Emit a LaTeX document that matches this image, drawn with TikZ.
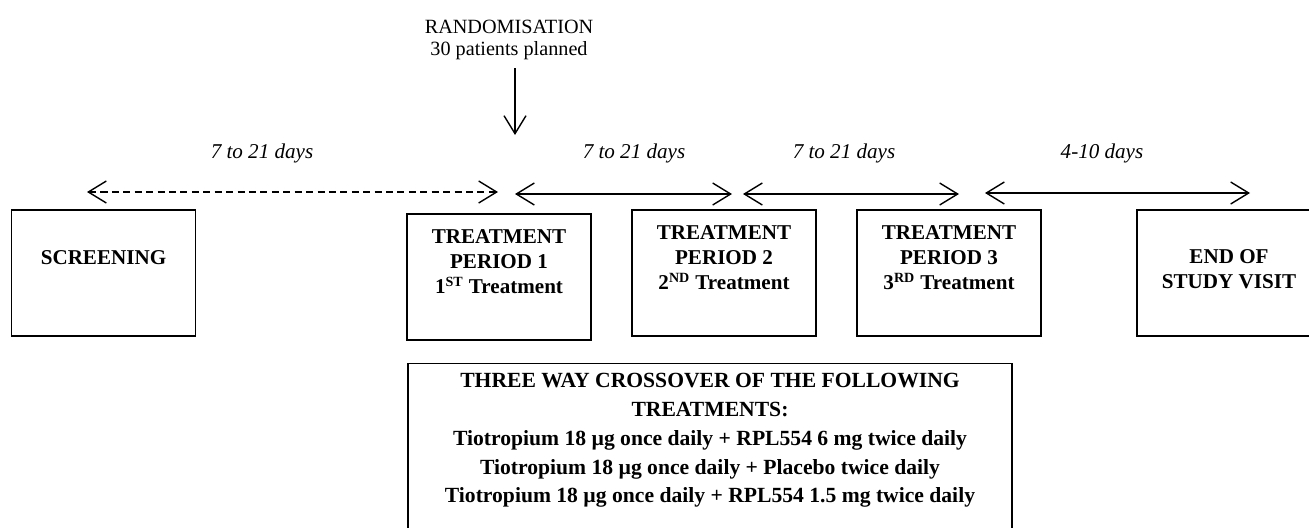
\documentclass[tikz,border=0pt]{standalone}
\usepackage{fontspec}
\setmainfont{Liberation Serif}
\usetikzlibrary{arrows.meta}

\begin{document}
\begin{tikzpicture}[x=0.2mm, y=-0.2mm,
    stagebox/.style={draw, line width=0.8pt, minimum width=3.68cm, minimum height=2.52cm, inner sep=0pt},
    stagetext/.style={font=\fontsize{12}{14.2}\selectfont\bfseries, align=center, inner sep=0pt},
    gaplabel/.style={font=\fontsize{12}{14}\selectfont\itshape, inner sep=0pt, anchor=base},
    barb/.style={Straight Barb[length=3.6mm, width=4.4mm]},
    gaparrow/.style={{Straight Barb[length=3.6mm, width=4.4mm]}-{Straight Barb[length=3.6mm, width=4.4mm]}, line width=0.8pt}]

        \useasboundingbox (0,0) rectangle (1309,527);

        % Boxes with absolute positions
        \node[stagebox] (screen) at (103.5,273) {};
        \node[stagebox] (tp1) at (499,277) {};
        \node[stagebox] (tp2) at (724,273) {};
        \node[stagebox] (tp3) at (949,273) {};
        \node[stagebox] (eos) at (1229,273) {};
        \node[draw, line width=0.8pt, minimum width=12.08cm, minimum height=4cm, anchor=north] (trt) at (710,363) {};

        % Box texts
        \node[stagetext] (screentxt) at (103.5,258) {SCREENING};
        \node[stagetext] (tp1txt) at (499,262) {TREATMENT\\PERIOD 1\\1\textsuperscript{ST} Treatment};
        \node[stagetext] (tp2txt) at (724,258) {TREATMENT\\PERIOD 2\\2\textsuperscript{ND} Treatment};
        \node[stagetext] (tp3txt) at (949,258) {TREATMENT\\PERIOD 3\\3\textsuperscript{RD} Treatment};
        \node[stagetext] (eostxt) at (1229,269.5) {END OF\\STUDY VISIT};
        \node[anchor=north, inner sep=0pt, align=center, font=\fontsize{12.3}{16.4}\selectfont\bfseries] (trttxt) at (710,373)
            {THREE WAY CROSSOVER OF THE FOLLOWING\\TREATMENTS:\\
             Tiotropium 18 µg once daily + RPL554 6 mg twice daily\\
             Tiotropium 18 µg once daily + Placebo twice daily\\
             Tiotropium 18 µg once daily + RPL554 1.5 mg twice daily};

        % Randomisation
        \node[align=center, inner sep=0pt, font=\fontsize{11.5}{12.5}\selectfont] (rand) at (509,39.5) {RANDOMISATION\\30 patients planned};
        \coordinate (r0) at (515,68);
        \coordinate (r1) at (515,135);

        % Interval labels
        \node[gaplabel] (gap1) at (262,158) {7 to 21 days};
        \node[gaplabel] (gap2) at (634,158) {7 to 21 days};
        \node[gaplabel] (gap3) at (844,158) {7 to 21 days};
        \node[gaplabel] (gap4) at (1102,158) {4-10 days};

        % Arrow end points
        \coordinate (s0) at (87,192);
        \coordinate (s1) at (498,192);
        \coordinate (a0) at (515,194);
        \coordinate (a1) at (732,194);
        \coordinate (b0) at (743,194);
        \coordinate (b1) at (959,194);
        \coordinate (c0) at (985,193);
        \coordinate (c1) at (1250,193);

        % Arrows
        \draw[-{Straight Barb[length=3.6mm, width=4.4mm]}, line width=0.8pt] (r0) -- (r1);
        \draw[gaparrow, dash pattern=on 4pt off 2.5pt] (s0) -- (s1);
        \draw[gaparrow] (a0) -- (a1);
        \draw[gaparrow] (b0) -- (b1);
        \draw[gaparrow] (c0) -- (c1);
      \end{tikzpicture}
\end{document}
